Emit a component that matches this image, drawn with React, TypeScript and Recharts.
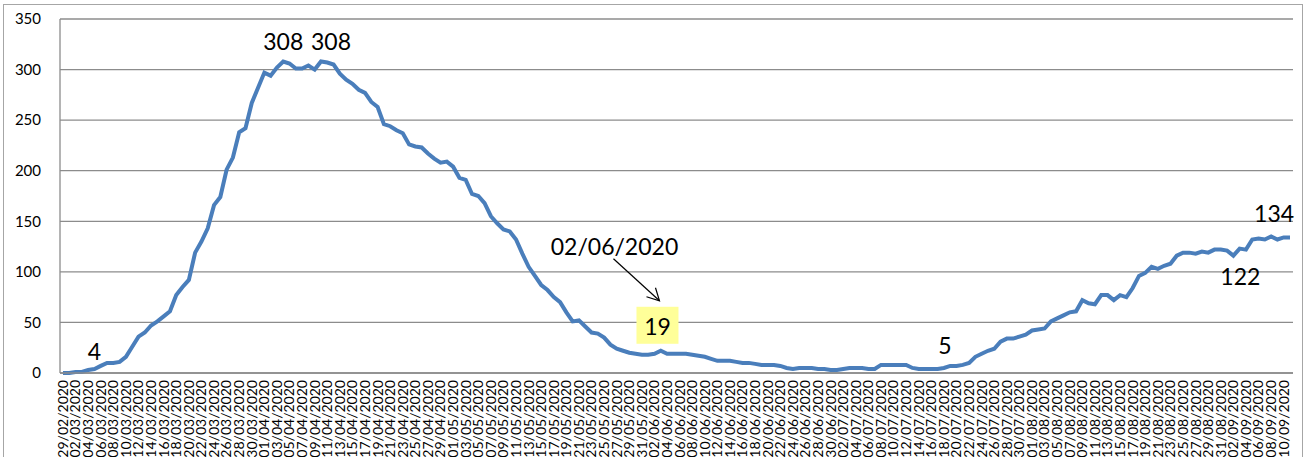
import { LineChart, Line, XAxis, YAxis, CartesianGrid, LabelList } from "recharts";

// daily values, 29/02/2020 -> 11/09/2020
const febValues = [0];
const marValues = [0, 1, 1, 3, 4, 7, 10, 10, 11, 16, 26, 36, 40, 47, 51, 56, 61, 77, 85, 92, 119, 130, 143, 166, 174, 201, 213, 238, 242, 267, 282];
const aprValues = [297, 294, 302, 308, 306, 301, 301, 304, 300, 308, 307, 305, 296, 290, 286, 280, 277, 268, 263, 246, 244, 240, 237, 226, 224, 223, 217, 212, 208, 209];
const mayValues = [204, 193, 191, 177, 175, 168, 155, 148, 142, 140, 132, 118, 105, 96, 87, 82, 75, 70, 60, 51, 52, 46, 40, 39, 35, 28, 24, 22, 20, 19, 18];
const junValues = [18, 19, 22, 19, 19, 19, 19, 18, 17, 16, 14, 12, 12, 12, 11, 10, 10, 9, 8, 8, 8, 7, 5, 4, 5, 5, 5, 4, 4, 3];
const julValues = [3, 4, 5, 5, 5, 4, 4, 8, 8, 8, 8, 8, 5, 4, 4, 4, 4, 5, 7, 7, 8, 10, 16, 19, 22, 24, 31, 34, 34, 36, 38];
const augValues = [42, 43, 44, 51, 54, 57, 60, 61, 72, 69, 68, 77, 77, 72, 77, 75, 84, 96, 99, 105, 103, 106, 108, 116, 119, 119, 118, 120, 119, 122, 122];
const sepValues = [121, 116, 123, 122, 132, 133, 132, 135, 132, 134, 134];

const months = [
  { month: "02", firstDay: 29, values: febValues },
  { month: "03", firstDay: 1, values: marValues },
  { month: "04", firstDay: 1, values: aprValues },
  { month: "05", firstDay: 1, values: mayValues },
  { month: "06", firstDay: 1, values: junValues },
  { month: "07", firstDay: 1, values: julValues },
  { month: "08", firstDay: 1, values: augValues },
  { month: "09", firstDay: 1, values: sepValues },
];

const yTicks = [0, 50, 100, 150, 200, 250, 300, 350];

const data = months.flatMap(({ month, firstDay, values }) =>
  values.map((v, i) => ({
    date: `${String(firstDay + i).padStart(2, "0")}/${month}/2020`,
    value: v,
  }))
);

// annotation texts, keyed by point index
const notes: Record<number, { text: string; dx: number; dy: number }> = {
  5: { text: "4", dx: 0, dy: -9 },
  35: { text: "308", dx: 0, dy: -11 },
  41: { text: "308", dx: 10, dy: -11 },
  140: { text: "5", dx: 1, dy: -14 },
  186: { text: "122", dx: 7, dy: 29 },
  192: { text: "134", dx: 3, dy: -14 },
};
const calloutIndex = 94;

const FONT = "Lato, 'Open Sans', sans-serif";

function renderNote(props: any) {
  const { x, y, index } = props;
  if (index === calloutIndex) {
    return (
      <g key={`n${index}`}>
        <text x={x - 40} y={y - 99} textAnchor="middle" fontSize={23} fontFamily={FONT} fill="#000">
          02/06/2020
        </text>
        <line x1={x - 41} y1={y - 95} x2={x + 5} y2={y - 53} stroke="#000" strokeWidth={1.2} />
        <polyline points={`${x - 8},${y - 57} ${x + 5},${y - 53} ${x + 1},${y - 66}`} fill="none" stroke="#000" strokeWidth={1.2} />
        <rect x={x - 18} y={y - 47} width={42} height={37} fill="#FFFF99" />
        <text x={x + 3} y={y - 19} textAnchor="middle" fontSize={23} fontFamily={FONT} fill="#000">
          19
        </text>
      </g>
    );
  }
  const n = notes[index];
  if (!n) return null;
  return (
    <text key={`n${index}`} x={x + n.dx} y={y + n.dy} textAnchor="middle" fontSize={23} fontFamily={FONT} fill="#000">
      {n.text}
    </text>
  );
}

function DateTick(props: any) {
  const { x, y, payload } = props;
  return (
    <text
      x={x}
      y={y}
      dy="0.35em"
      transform={`rotate(-90 ${x} ${y})`}
      textAnchor="end"
      fontSize={14}
      fontFamily={FONT}
      fill="#000"
    >
      {payload.value}
    </text>
  );
}

export default function App() {
  return (
    <div style={{ position: "absolute", left: 0, top: 0, width: 1306, height: 457, overflow: "hidden", background: "#fff" }}>
      <div
        style={{
          position: "absolute",
          left: 3,
          top: 4,
          width: 1298,
          height: 470,
          border: "1px solid #a6a6a6",
        }}
      />
      <LineChart
        width={1306}
        height={457}
        data={data}
        margin={{ top: 19, right: 13, bottom: 0, left: 0 }}
        style={{ position: "absolute", left: 0, top: 0 }}
      >
        <CartesianGrid vertical={false} stroke="#8c8c8c" strokeWidth={1.3} />
        <XAxis
          dataKey="date"
          interval={1}
          height={84}
          padding={{ left: 3, right: 3 }}
          axisLine={{ stroke: "#8c8c8c", strokeWidth: 1.3 }}
          tickLine={false}
          tickSize={0}
          tickMargin={7}
          tick={<DateTick />}
        />
        <YAxis
          domain={[0, 350]}
          ticks={yTicks}
          width={60}
          axisLine={{ stroke: "#8c8c8c", strokeWidth: 1.3 }}
          tickLine={false}
          tickSize={0}
          tickMargin={19}
          tick={{ fontSize: 15, fontFamily: FONT, fill: "#000" }}
        />
        <Line
          type="linear"
          dataKey="value"
          stroke="#4A7EBB"
          strokeWidth={4}
          dot={false}
          isAnimationActive={false}
        >
          <LabelList dataKey="value" content={renderNote} />
        </Line>
      </LineChart>
    </div>
  );
}
